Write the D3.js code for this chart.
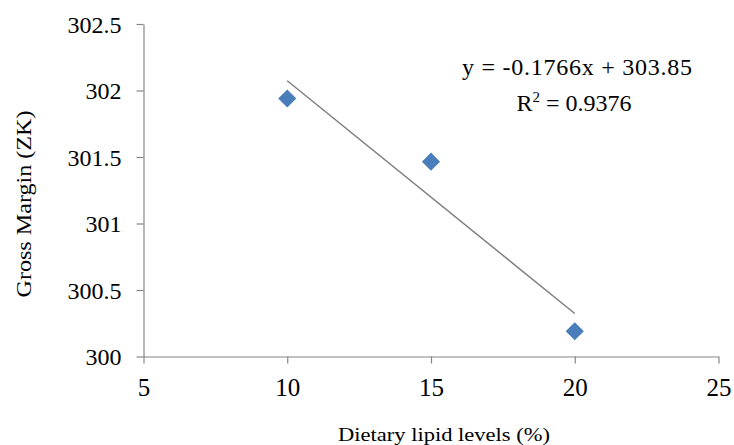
<!DOCTYPE html>
<html><head><meta charset="utf-8">
<script src="https://cdn.jsdelivr.net/npm/d3@7"></script>
<style>body{margin:0;background:#fff}svg{display:block}</style>
</head><body>
<svg id="c" width="734" height="445"></svg>
<script>
const lipidLevels = [10, 15, 20];
const grossMargin = [301.94, 301.465, 300.19];
const xTicks = [5, 10, 15, 20, 25];
const yTicks = [300, 300.5, 301, 301.5, 302, 302.5];
const equationText = "y = -0.1766x + 303.85";
const r2Label = "R";
const r2Value = " = 0.9376";
const xTitle = "Dietary lipid levels (%)";
const yTitle = "Gross Margin (ZK)";

const svg = d3.select("#c");
const font = "'Liberation Serif','Times New Roman',serif";
const x = d3.scaleLinear().domain([5, 25]).range([143.5, 718.5]);
const y = d3.scaleLinear().domain([300, 302.5]).range([356.5, 24]);

const axisColor = "#868686";
const gx = svg.append("g").attr("transform", `translate(0,${y(300)})`)
  .call(d3.axisBottom(x).tickValues(xTicks).tickSize(7).tickSizeOuter(0).tickFormat(d3.format("d")));
const gy = svg.append("g").attr("transform", `translate(${x(5)},0)`)
  .call(d3.axisLeft(y).tickValues(yTicks).tickSize(7).tickSizeOuter(0).tickFormat(d => String(d)));
[gx, gy].forEach(g => {
  g.attr("font-family", null).attr("font-size", null);
  g.select(".domain").attr("stroke", axisColor).attr("stroke-width", 1.2);
  g.selectAll(".tick line").attr("stroke", axisColor).attr("stroke-width", 1.2);
  g.selectAll(".tick text").attr("fill", "#000").style("font-family", font).style("font-size", "24px");
});
gy.selectAll(".tick text").attr("x", -22).attr("dy", "0.34em");
gx.selectAll(".tick text").attr("y", 22).style("font-size", "25px");

// least squares trendline from the data
const mx = d3.mean(lipidLevels), my = d3.mean(grossMargin);
const slope = d3.sum(lipidLevels, (v, i) => (v - mx) * (grossMargin[i] - my)) / d3.sum(lipidLevels, v => (v - mx) ** 2);
const intercept = my - slope * mx;
const xExt = d3.extent(lipidLevels);
svg.append("line")
  .attr("x1", x(xExt[0])).attr("y1", y(intercept + slope * xExt[0]))
  .attr("x2", x(xExt[1])).attr("y2", y(intercept + slope * xExt[1]))
  .attr("stroke", "#7f7f7f").attr("stroke-width", 1.5);

const sym = d3.symbol().type(d3.symbolSquare).size(165);
svg.selectAll("path.pt").data(lipidLevels).join("path").attr("class", "pt")
  .attr("d", sym)
  .attr("transform", (d, i) => `translate(${x(d)},${y(grossMargin[i])}) rotate(45)`)
  .attr("fill", "#4a7ebb");

svg.append("text").attr("x", 577).attr("y", 75).attr("text-anchor", "middle")
  .attr("textLength", 230).attr("lengthAdjust", "spacing")
  .style("font-family", font).style("font-size", "24px").text(equationText);
const t2 = svg.append("text").attr("x", 574).attr("y", 111).attr("text-anchor", "middle")
  .style("font-family", font).style("font-size", "24px");
t2.append("tspan").text(r2Label);
t2.append("tspan").attr("dy", -9).style("font-size", "15px").text("2");
t2.append("tspan").attr("dy", 9).text(r2Value);

svg.append("text").attr("x", 444).attr("y", 441).attr("text-anchor", "middle")
  .attr("textLength", 212).attr("lengthAdjust", "spacingAndGlyphs")
  .style("font-family", font).style("font-size", "18px").text(xTitle);
svg.append("text").attr("transform", "translate(31,204) rotate(-90)").attr("text-anchor", "middle")
  .attr("textLength", 187).attr("lengthAdjust", "spacingAndGlyphs")
  .style("font-family", font).style("font-size", "20px").text(yTitle);
</script>
</body></html>
